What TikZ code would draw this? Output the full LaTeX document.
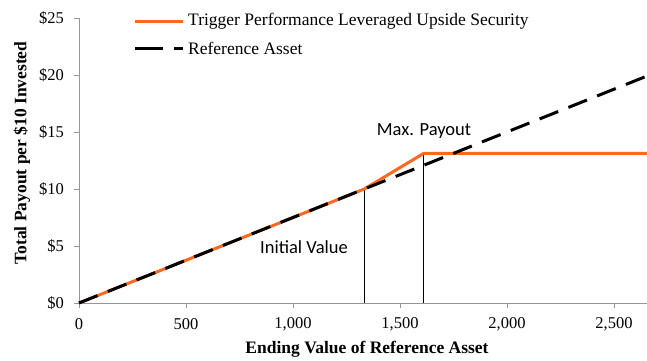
\documentclass[tikz,border=0pt]{standalone}
\usepackage{fontspec}
\setmainfont{Liberation Serif}
\newfontfamily\calib{Carlito}
\definecolor{trigorange}{RGB}{255,104,32}
\definecolor{axisgray}{RGB}{150,150,150}
\tikzset{
  axisline/.style={draw=axisgray, line width=1pt},
  ticklab/.style={font=\fontsize{16.5}{18}\selectfont, inner sep=0pt},
  axtitle/.style={font=\bfseries\fontsize{17.5}{19}\selectfont, inner sep=0pt},
  legtext/.style={font=\fontsize{17.5}{19}\selectfont, anchor=west, inner sep=0pt},
  annot/.style={font=\calib\fontsize{18.5}{20}\selectfont, inner sep=0pt},
  trigline/.style={draw=trigorange, line width=3pt, line join=round},
  refline/.style={draw=black, line width=3pt, dash pattern=on 20pt off 11pt},
  guide/.style={draw=black, line width=1pt}
}
\begin{document}
\begin{tikzpicture}[x=1pt, y=-1pt]
\useasboundingbox (0,0) rectangle (647,360);
% axes
\draw[axisline] (79,18) -- (79,303) -- (647,303);
\foreach \v/\lab in {0/\$0,5/\$5,10/\$10,15/\$15,20/\$20,25/\$25}{
  \draw[axisline] (74,303-11.4*\v) -- (79,303-11.4*\v);
  \node[ticklab, anchor=east] (yl\v) at (64,303-11.4*\v) {\lab};
}
\foreach \v/\lab in {0/0,500/500,1000/{1,000},1500/{1,500},2000/{2,000},2500/{2,500}}{
  \draw[axisline] (79+0.214*\v,303) -- (79+0.214*\v,308);
  \node[ticklab] (xl\v) at (79+0.214*\v,324) {\lab};
}
\node[axtitle] (xt) at (367,349) {Ending Value of Reference Asset};
\node[axtitle, rotate=90] (yt) at (22,153) {Total Payout per \$10 Invested};
% data
\begin{scope}[shift={(79,303)}, x=0.214pt, y=11.4pt]
  \coordinate (o) at (0,0);
  \coordinate (iv) at (1333,10);
  \coordinate (mp) at (1611,13.13);
  \coordinate (cap) at (2654,13.13);
  \coordinate (ivb) at (1333,0);
  \coordinate (mpb) at (1611,0);
  \coordinate (refend) at (2654,19.91);
  \draw[guide] (ivb) -- (iv);
  \draw[guide] (mpb) -- (mp);
  \draw[trigline] (o) -- (iv) -- (mp) -- (cap);
  \draw[refline] (o) -- (refend);
\end{scope}
\node[annot] (ivlab) at (304,247) {Initial Value};
\node[annot] (mplab) at (424,131) {Max. Payout};
% legend
\coordinate (l1a) at (135,21);
\coordinate (l1b) at (183,21);
\draw[trigline] (l1a) -- (l1b);
\node[legtext] (l1t) at (188,21) {Trigger Performance Leveraged Upside Security};
\coordinate (l2a) at (135,48);
\coordinate (l2b) at (163,48);
\coordinate (l2c) at (174,48);
\coordinate (l2d) at (183,48);
\draw[draw=black, line width=3pt] (l2a) -- (l2b);
\draw[draw=black, line width=3pt] (l2c) -- (l2d);
\node[legtext] (l2t) at (188,48) {Reference Asset};
\end{tikzpicture}
\end{document}
